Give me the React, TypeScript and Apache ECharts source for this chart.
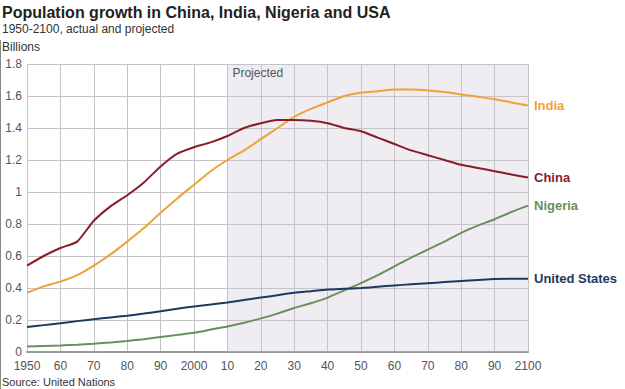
import React, { useEffect, useRef } from "react";
import * as echarts from "echarts";

const years = [1950, 1955, 1960, 1965, 1970, 1975, 1980, 1985, 1990, 1995, 2000, 2005, 2010, 2015, 2020, 2025, 2030, 2035, 2040, 2045, 2050, 2055, 2060, 2065, 2070, 2075, 2080, 2085, 2090, 2095, 2100];

const china = [0.54, 0.6, 0.65, 0.69, 0.82, 0.91, 0.98, 1.06, 1.16, 1.24, 1.28, 1.31, 1.35, 1.4, 1.43, 1.45, 1.45, 1.445, 1.43, 1.4, 1.38, 1.34, 1.3, 1.26, 1.23, 1.2, 1.17, 1.15, 1.13, 1.11, 1.09];
const india = [0.37, 0.41, 0.44, 0.48, 0.54, 0.61, 0.69, 0.775, 0.87, 0.96, 1.045, 1.13, 1.2, 1.26, 1.33, 1.4, 1.47, 1.52, 1.56, 1.6, 1.62, 1.63, 1.64, 1.64, 1.635, 1.625, 1.61, 1.595, 1.58, 1.56, 1.54];
const nigeria = [0.035, 0.038, 0.041, 0.046, 0.052, 0.06, 0.069, 0.08, 0.094, 0.107, 0.12, 0.14, 0.16, 0.183, 0.21, 0.24, 0.275, 0.305, 0.34, 0.385, 0.43, 0.48, 0.535, 0.59, 0.64, 0.69, 0.745, 0.79, 0.83, 0.875, 0.915];
const usa = [0.156, 0.168, 0.18, 0.193, 0.205, 0.216, 0.227, 0.24, 0.254, 0.27, 0.285, 0.297, 0.31, 0.325, 0.34, 0.355, 0.37, 0.38, 0.39, 0.395, 0.4, 0.408, 0.416, 0.423, 0.43, 0.437, 0.444, 0.45, 0.456, 0.458, 0.458];

const seriesNames = ["India", "China", "Nigeria", "United States"];
const seriesColors = ["#efa13a", "#8a1c2a", "#6a8f5c", "#1d3a5e"];
const projectedStart = 2010;
const projectedEnd = 2100;

const FONT = "'Liberation Sans', Arial, sans-serif";

export default function App() {
  const ref = useRef<HTMLDivElement>(null);
  useEffect(() => {
    if (!ref.current) return;
    const chart = echarts.init(ref.current, undefined, { renderer: "svg" });
    const datasets = [india, china, nigeria, usa];
    const series: any[] = datasets.map((vals, i) => ({
      type: "line",
      name: seriesNames[i],
      data: years.map((y, j) => [y, vals[j]]),
      showSymbol: false,
      smooth: 0.2,
      lineStyle: { color: seriesColors[i], width: 2 },
      itemStyle: { color: seriesColors[i] },
      z: 3,
      endLabel: {
        show: true,
        formatter: seriesNames[i],
        color: seriesColors[i],
        fontFamily: FONT,
        fontWeight: "bold",
        fontSize: 13,
        distance: 6,
      },
      ...(i === 0
        ? {
            markArea: {
              silent: true,
              itemStyle: { color: "rgba(203,196,207,0.3)" },
              label: {
                show: true,
                position: "insideTopLeft",
                formatter: "Projected",
                color: "#555",
                fontFamily: FONT,
                fontSize: 12,
                offset: [0, -2],
              },
              data: [[{ xAxis: projectedStart }, { xAxis: projectedEnd }]],
            },
          }
        : {}),
    }));

    chart.setOption({
      animation: false,
      backgroundColor: "#fff",
      textStyle: { fontFamily: FONT },
      grid: { left: 27, right: 97, top: 64, bottom: 37, containLabel: false },
      xAxis: {
        type: "value",
        min: 1950,
        max: 2100,
        interval: 10,
        axisLine: { show: true, lineStyle: { color: "#999", width: 2 } },
        axisTick: { show: false },
        axisLabel: {
          color: "#555",
          fontSize: 12,
          margin: 8,
          formatter: (v: number) =>
            v === 1950 || v === 2000 || v === 2100 ? String(v) : String(v % 100).padStart(2, "0"),
        },
        splitLine: { show: true, lineStyle: { color: "#c4c4c4", width: 1 } },
      },
      yAxis: {
        type: "value",
        min: 0,
        max: 1.8,
        interval: 0.2,
        axisLine: { show: false },
        axisTick: { show: false },
        axisLabel: {
          color: "#555",
          fontSize: 12,
          margin: 5,
          formatter: (v: number) => String(Math.round(v * 10) / 10),
        },
        splitLine: { show: true, lineStyle: { color: "#c4c4c4", width: 1 } },
      },
      graphic: [
        {
          type: "text",
          left: 2,
          top: 4,
          style: { text: "Population growth in China, India, Nigeria and USA", fontFamily: FONT, fontSize: 16, fontWeight: "bold", fill: "#222" },
        },
        {
          type: "text",
          left: 2,
          top: 23,
          style: { text: "1950-2100, actual and projected", fontFamily: FONT, fontSize: 12, fill: "#333" },
        },
        {
          type: "text",
          left: 2,
          top: 41,
          style: { text: "Billions", fontFamily: FONT, fontSize: 12, fill: "#333" },
        },
        {
          type: "text",
          left: 2,
          top: 376,
          style: { text: "Source: United Nations", fontFamily: FONT, fontSize: 11, fill: "#333" },
        },
        {
          type: "line",
          shape: { x1: 0.5, y1: 40, x2: 0.5, y2: 389 },
          style: { stroke: "#888", lineWidth: 1 },
        },
      ],
      series,
    });
    return () => chart.dispose();
  }, []);
  return <div ref={ref} style={{ width: 625, height: 389, position: "absolute", left: 0, top: 0 }} />;
}
